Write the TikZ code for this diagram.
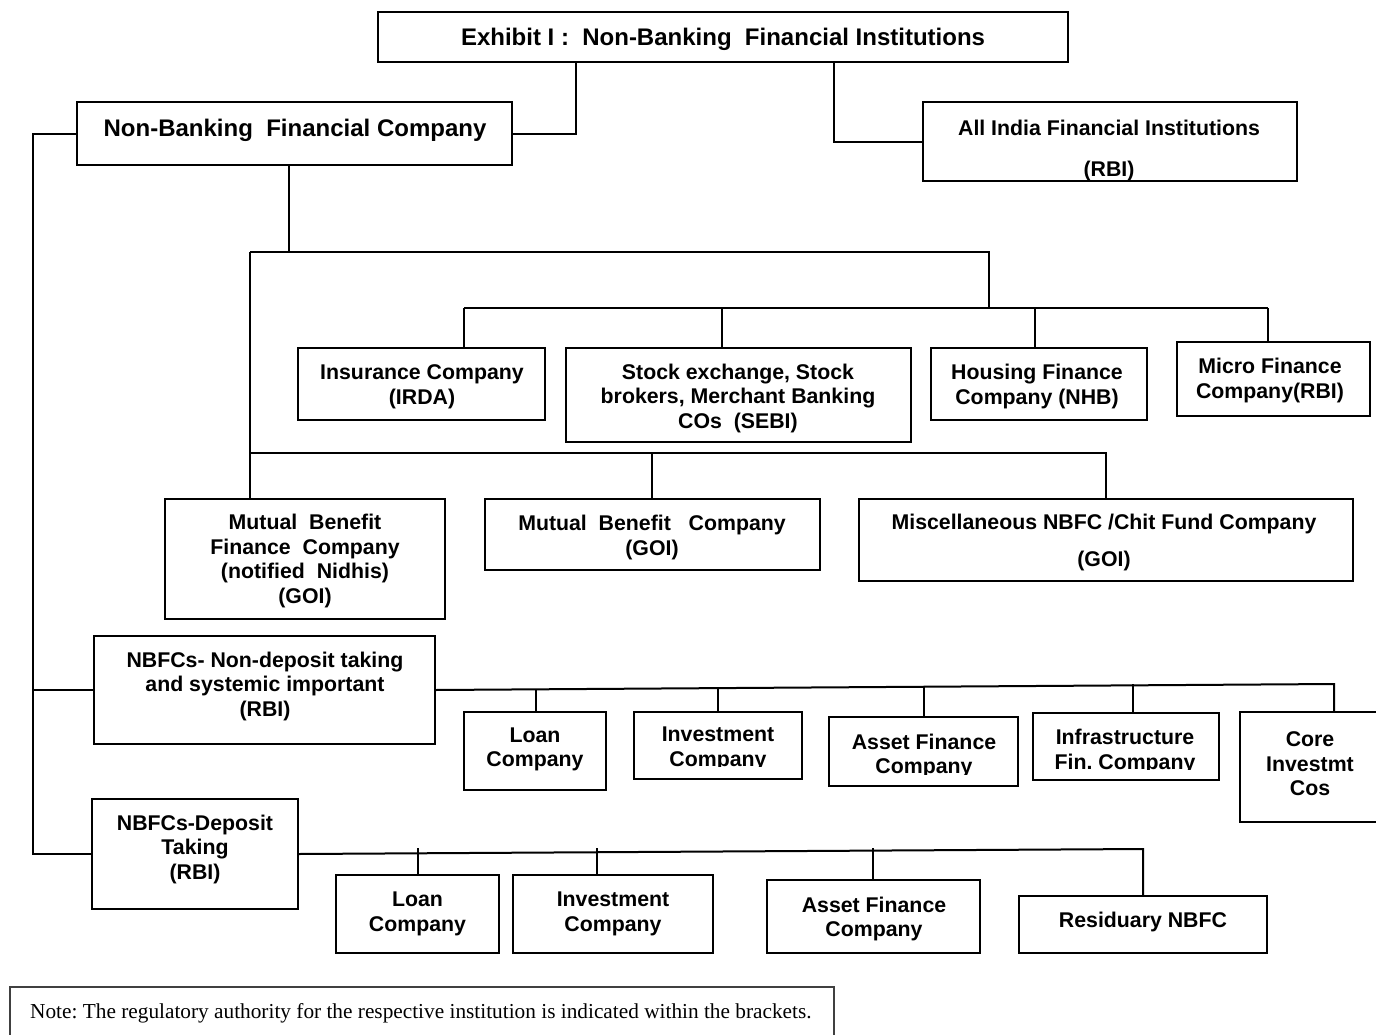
\documentclass[tikz,border=0pt]{standalone}
\usepackage{fontspec}
\setmainfont{Liberation Sans}
\newfontfamily\notefont{Liberation Serif}
\frenchspacing
\newcommand\hf{\fontsize{24}{28}\selectfont}
% #1 name, #2 x1, #3 y1, #4 x2, #5 y2, #6 clip bottom, #7 text x, #8 text y, #9 text
\newcommand\obox[9]{%
  \node[box, minimum width={#4-#2}, minimum height={#5-#3}] (#1) at ({(#2+#4)/2},{(#3+#5)/2}) {};
  \begin{scope}
    \clip (#2,#3) rectangle (#4,#6);
    \node[txt] (#1-t) at (#7,#8) {#9};
  \end{scope}
}
\begin{document}
\begin{tikzpicture}[x=1pt,y=-1pt,
  box/.style={draw=black, line width=2pt, inner sep=0pt, outer sep=0pt, rectangle},
  txt/.style={font=\bfseries\fontsize{21.3}{24.5}\selectfont, align=center, inner sep=0pt},
  conn/.style={draw=black, line width=2pt}
]
\useasboundingbox[fill=white] (0,0) rectangle (1376,1034);

% top level
\obox{title}{378}{12}{1068}{62}{62}{723}{39}{\hf Exhibit I :~ Non-Banking~ Financial Institutions}
\obox{nbfc}{77}{102}{512}{165}{165}{295}{130}{\hf Non-Banking~ Financial Company}
\obox{aifi}{923}{102}{1297}{181}{179}{1109}{150.5}{All India Financial Institutions\\[16.5pt](RBI)}

% row 2
\obox{ins}{298}{348}{545}{420}{420}{422}{387}{Insurance Company\\(IRDA)}
\obox{stock}{566}{348}{911}{442}{442}{738}{398}{Stock exchange, Stock\\brokers, Merchant Banking\\COs~ (SEBI)}
\obox{hfc}{931}{348}{1147}{420}{420}{1037}{386.5}{Housing Finance\\Company (NHB)}
\obox{mfc}{1177}{342}{1370}{416}{416}{1270}{380.5}{Micro Finance\\Company(RBI)}

% row 3
\obox{mbfc}{165}{499}{445}{619}{619}{305}{561}{Mutual~ Benefit\\Finance~ Company\\(notified~ Nidhis)\\(GOI)}
\obox{mbc}{485}{499}{820}{570}{570}{652}{537.5}{Mutual~ Benefit~~ Company\\(GOI)}
\obox{misc}{859}{499}{1353}{581}{581}{1104}{542}{Miscellaneous NBFC /Chit Fund Company\\[12.5pt](GOI)}

% non-deposit taking
\obox{ndsi}{94}{636}{435}{744}{744}{265}{686}{NBFCs- Non-deposit taking\\and systemic important\\(RBI)}
\obox{loanA}{464}{712}{606}{790}{790}{535}{749.5}{Loan\\Company}
\obox{invA}{634}{712}{802}{779}{766}{718}{749}{Investment\\Company}
\obox{assetA}{829}{717}{1018}{786}{774}{924}{756}{Asset Finance\\Company}
\obox{infra}{1033}{713}{1219}{780}{769}{1125}{751.5}{Infrastructure\\Fin. Company}
\obox{core}{1240}{712}{1385}{822}{822}{1310}{764}{Core\\Investmt\\Cos}

% deposit taking
\obox{dep}{92}{799}{298}{909}{909}{195}{849}{NBFCs-Deposit\\Taking\\(RBI)}
\obox{loanB}{336}{875}{499}{953}{953}{417.5}{914}{Loan\\Company}
\obox{invB}{513}{875}{713}{953}{953}{613}{914}{Investment\\Company}
\obox{assetB}{767}{880}{980}{953}{953}{874}{919}{Asset Finance\\Company}
\obox{resid}{1019}{896}{1267}{953}{953}{1143}{922}{Residuary NBFC}

% note
\node[draw=black!75, line width=1.2pt, minimum width=824, minimum height=70, inner sep=0pt] (notebox) at (422,1022) {};
\node[anchor=base west, inner sep=0pt, font=\notefont\fontsize{21.3}{24}\selectfont] (note) at (30,1018)
  {Note: The regulatory authority for the respective institution is indicated within the brackets.};

% connectors: top
\coordinate (ta) at (576,0);
\coordinate (tb) at (834,0);
\draw[conn] (title.south -| ta) |- (nbfc.east);
\draw[conn] (title.south -| tb) |- (aifi.west);

% left trunk
\coordinate (trunk) at (33,0);
\draw[conn] (nbfc.west) -| (trunk |- dep.west) -- (dep.west);
\draw[conn] (trunk |- ndsi.west) -- (ndsi.west);

% NBFC subtree
\coordinate (b1) at (289,252);
\coordinate (hl) at (250,252);
\coordinate (hr) at (989,252);
\coordinate (r2m) at (989,308);
\coordinate (r2l) at (464,308);
\coordinate (r2r) at (1268,308);
\coordinate (s2) at (722,308);
\coordinate (s3) at (1035,308);
\draw[conn] (nbfc.south -| b1) -- (b1);
\draw[conn] (hl) -- (hr) -- (r2m);
\draw[conn] (r2l) -- (r2r);
\draw[conn] (r2l) -- (r2l |- ins.north);
\draw[conn] (s2) -- (s2 |- stock.north);
\draw[conn] (s3) -- (s3 |- hfc.north);
\draw[conn] (r2r) -- (r2r |- mfc.north);

\coordinate (r3l) at (250,453);
\coordinate (r3m) at (652,453);
\coordinate (r3r) at (1106,453);
\draw[conn] (hl) -- (hl |- mbfc.north);
\draw[conn] (r3l) -- (r3r) -- (r3r |- misc.north);
\draw[conn] (r3m) -- (r3m |- mbc.north);

% non-deposit branch
\coordinate (n1) at (536,689.3);
\coordinate (n2) at (718,688.1);
\coordinate (n3) at (924,686.7);
\coordinate (n4) at (1133,684);
\coordinate (n5) at (1334,684);
\draw[conn] (ndsi.east) -- (n5) -- (n5 |- core.north);
\draw[conn] (n1) -- (n1 |- loanA.north);
\draw[conn] (n2) -- (n2 |- invA.north);
\draw[conn] (n3) -- (n3 |- assetA.north);
\draw[conn] (n4) -- (n4 |- infra.north);

% deposit branch
\coordinate (d1) at (418,848);
\coordinate (d2) at (597,848);
\coordinate (d3) at (873,848);
\coordinate (d4) at (1143,849);
\draw[conn] (dep.east) -- (d4) -- (d4 |- resid.north);
\draw[conn] (d1) -- (d1 |- loanB.north);
\draw[conn] (d2) -- (d2 |- invB.north);
\draw[conn] (d3) -- (d3 |- assetB.north);
\end{tikzpicture}
\end{document}
